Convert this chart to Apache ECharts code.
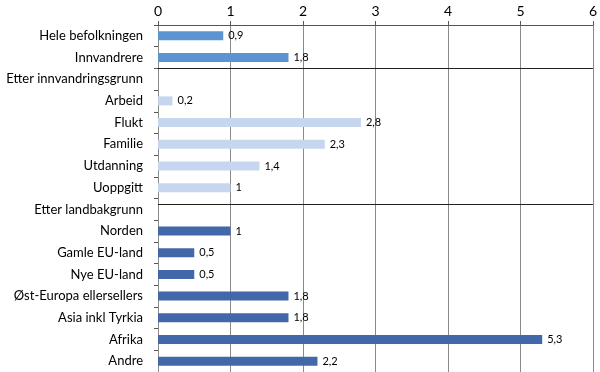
<!DOCTYPE html>
<html>
<head>
<meta charset="utf-8">
<script src="https://cdn.jsdelivr.net/npm/echarts@6/dist/echarts.min.js"></script>
<style>
html,body{margin:0;padding:0;background:#fff;}
#chart{width:600px;height:372px;}
</style>
</head>
<body>
<div id="chart"></div>
<script>
var categories = ["Hele befolkningen","Innvandrere","Etter innvandringsgrunn","Arbeid","Flukt","Familie","Utdanning","Uoppgitt","Etter landbakgrunn","Norden","Gamle EU-land","Nye EU-land","Øst-Europa ellersellers","Asia inkl Tyrkia","Afrika","Andre"];
var values = [0.9,1.8,null,0.2,2.8,2.3,1.4,1.0,null,1.0,0.5,0.5,1.8,1.8,5.3,2.2];
var groups = [0,0,1,1,1,1,1,1,2,2,2,2,2,2,2,2];
var xTicks = [0,1,2,3,4,5,6];

var groupColors = ["#5b94d0","#c6d6ef","#4368a9"];
var FONT = "Lato";

var chart = echarts.init(document.getElementById('chart'), null, {renderer:'canvas'});
var data = values.map(function(v,i){
  return {value: v, itemStyle:{color: groupColors[groups[i]]}};
});
chart.setOption({
  animation:false,
  grid:{left:158,right:3,top:25,bottom:0,containLabel:false},
  xAxis:{
    type:'value', position:'top', min:xTicks[0], max:xTicks[xTicks.length-1], interval:1,
    axisLine:{show:true,lineStyle:{color:'#555',width:1}},
    axisTick:{show:true,length:4,lineStyle:{color:'#555'}},
    splitLine:{show:true,lineStyle:{color:'#8a8a8a',width:1}},
    axisLabel:{fontFamily:FONT,fontSize:14,color:'#000',margin:7}
  },
  yAxis:{
    type:'category', inverse:true, data:categories,
    axisLine:{show:true,lineStyle:{color:'#8a8a8a',width:1}},
    axisTick:{show:true,length:4,lineStyle:{color:'#555'}},
    axisLabel:{fontFamily:FONT,fontSize:13,color:'#000',margin:15}
  },
  series:[{
    type:'bar', data:data, barWidth:9,
    label:{show:true,position:'right',distance:5,fontFamily:FONT,fontSize:11,color:'#000',
      formatter:function(p){return p.value==null?'':String(p.value).replace('.',',');}}
  }]
});

function yOf(i){return chart.convertToPixel({yAxisIndex:0}, categories[i]);}
var x0 = chart.convertToPixel({xAxisIndex:0}, xTicks[0]);
var x1 = chart.convertToPixel({xAxisIndex:0}, xTicks[xTicks.length-1]);
var yA = (yOf(1)+yOf(2))/2;
var yB = yOf(7) + 0.75*(yOf(8)-yOf(7));
chart.setOption({graphic:[
  {type:'line',shape:{x1:x0,y1:Math.round(yA)+0.5,x2:x1,y2:Math.round(yA)+0.5},style:{stroke:'#222',lineWidth:1},z:10},
  {type:'line',shape:{x1:x0,y1:Math.round(yB)+0.5,x2:x1,y2:Math.round(yB)+0.5},style:{stroke:'#222',lineWidth:1},z:10}
]});
</script>
</body>
</html>
